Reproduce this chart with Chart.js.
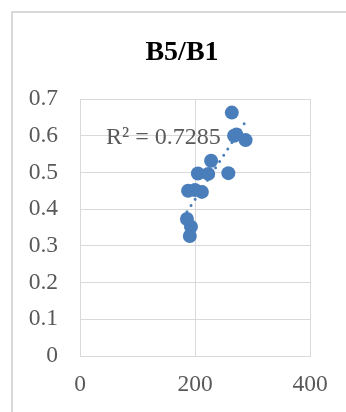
<!DOCTYPE html>
<html>
<head>
<meta charset="utf-8">
<style>
  html, body { margin: 0; padding: 0; background: #ffffff; }
  #wrap { width: 346px; height: 412px; }
</style>
<script src="https://cdn.jsdelivr.net/npm/chart.js@4/dist/chart.umd.min.js"></script>
</head>
<body>
<div id="wrap"><canvas id="c" width="346" height="412"></canvas></div>
<script>
// B5/B1 ratio against the x measure
const xValues = [186, 193, 191, 188, 200, 212, 205, 223, 228, 258, 264, 268, 272, 288];
const yValues = [0.373, 0.352, 0.327, 0.450, 0.452, 0.447, 0.497, 0.496, 0.532, 0.498, 0.663, 0.600, 0.603, 0.588];
const xTicks = [0, 200, 400];
const yTicks = [0, 0.1, 0.2, 0.3, 0.4, 0.5, 0.6, 0.7];
const chartTitle = 'B5/B1';
const rSquaredText = 'R\u00B2 = 0.7285';

const points = xValues.map((x, i) => ({ x: x, y: yValues[i] }));

// least-squares linear trendline over the data range
function linearFit(xs, ys) {
  const n = xs.length;
  const mx = xs.reduce((a, b) => a + b, 0) / n;
  const my = ys.reduce((a, b) => a + b, 0) / n;
  let sxy = 0, sxx = 0;
  for (let i = 0; i < n; i++) {
    sxy += (xs[i] - mx) * (ys[i] - my);
    sxx += (xs[i] - mx) * (xs[i] - mx);
  }
  const slope = sxy / sxx;
  return { slope: slope, intercept: my - slope * mx };
}
const fit = linearFit(xValues, yValues);
const xMin = Math.min(...xValues), xMax = Math.max(...xValues);
const trend = [
  { x: xMin, y: fit.intercept + fit.slope * xMin },
  { x: xMax, y: fit.intercept + fit.slope * xMax }
];

const serif = '"Liberation Serif", "Times New Roman", serif';
const grey = '#d9d9d9';
const textGrey = '#595959';
const blue = '#4a7ebb';

// outer chart frame and the title, centred on the frame
const framePlugin = {
  id: 'frame',
  beforeDraw(chart) {
    const ctx = chart.ctx;
    ctx.save();
    ctx.strokeStyle = grey;
    ctx.lineWidth = 2;
    ctx.strokeRect(12, 12, 340, 500);
    ctx.font = 'bold 28px ' + serif;
    ctx.fillStyle = '#000000';
    ctx.textAlign = 'center';
    ctx.textBaseline = 'middle';
    ctx.fillText(chartTitle, 182, 53);
    ctx.restore();
  }
};

// R² label next to the trendline
const rsqPlugin = {
  id: 'rsq',
  afterDatasetsDraw(chart) {
    const ctx = chart.ctx;
    ctx.save();
    ctx.font = '24px ' + serif;
    ctx.fillStyle = textGrey;
    ctx.textAlign = 'left';
    ctx.textBaseline = 'middle';
    ctx.fillText(rSquaredText, 106, 138);
    ctx.restore();
  }
};

new Chart(document.getElementById('c'), {
  type: 'scatter',
  data: {
    datasets: [
      {
        type: 'line',
        data: trend,
        borderColor: blue,
        borderWidth: 3,
        borderDash: [0, 7.5],
        borderCapStyle: 'round',
        pointRadius: 0,
        fill: false,
        order: 0
      },
      {
        data: points,
        backgroundColor: blue,
        borderColor: blue,
        pointRadius: 7,
        pointBorderWidth: 0,
        order: 1
      }
    ]
  },
  options: {
    responsive: false,
    animation: false,
    events: [],
    layout: { padding: { left: 18, right: 36, top: 99, bottom: 0 } },
    plugins: {
      legend: { display: false },
      tooltip: { enabled: false },
      title: { display: false }
    },
    scales: {
      x: {
        type: 'linear',
        min: 0,
        max: 400,
        afterBuildTicks(scale) { scale.ticks = xTicks.map(v => ({ value: v })); },
        afterFit(scale) { scale.height = 56; },
        grid: { color: grey, lineWidth: 1, drawTicks: false },
        border: { color: grey, width: 1 },
        ticks: {
          color: textGrey,
          font: { family: serif, size: 23.5 },
          padding: 15,
          maxRotation: 0
        }
      },
      y: {
        type: 'linear',
        min: 0,
        max: 0.7,
        afterBuildTicks(scale) { scale.ticks = yTicks.map(v => ({ value: v })); },
        afterFit(scale) { scale.width = 62; },
        grid: { color: grey, lineWidth: 1, drawTicks: false },
        border: { color: grey, width: 1 },
        ticks: {
          color: textGrey,
          font: { family: serif, size: 23.5 },
          padding: 22,
          callback: v => String(Math.round(v * 10) / 10)
        }
      }
    }
  },
  plugins: [framePlugin, rsqPlugin]
});
</script>
</body>
</html>
